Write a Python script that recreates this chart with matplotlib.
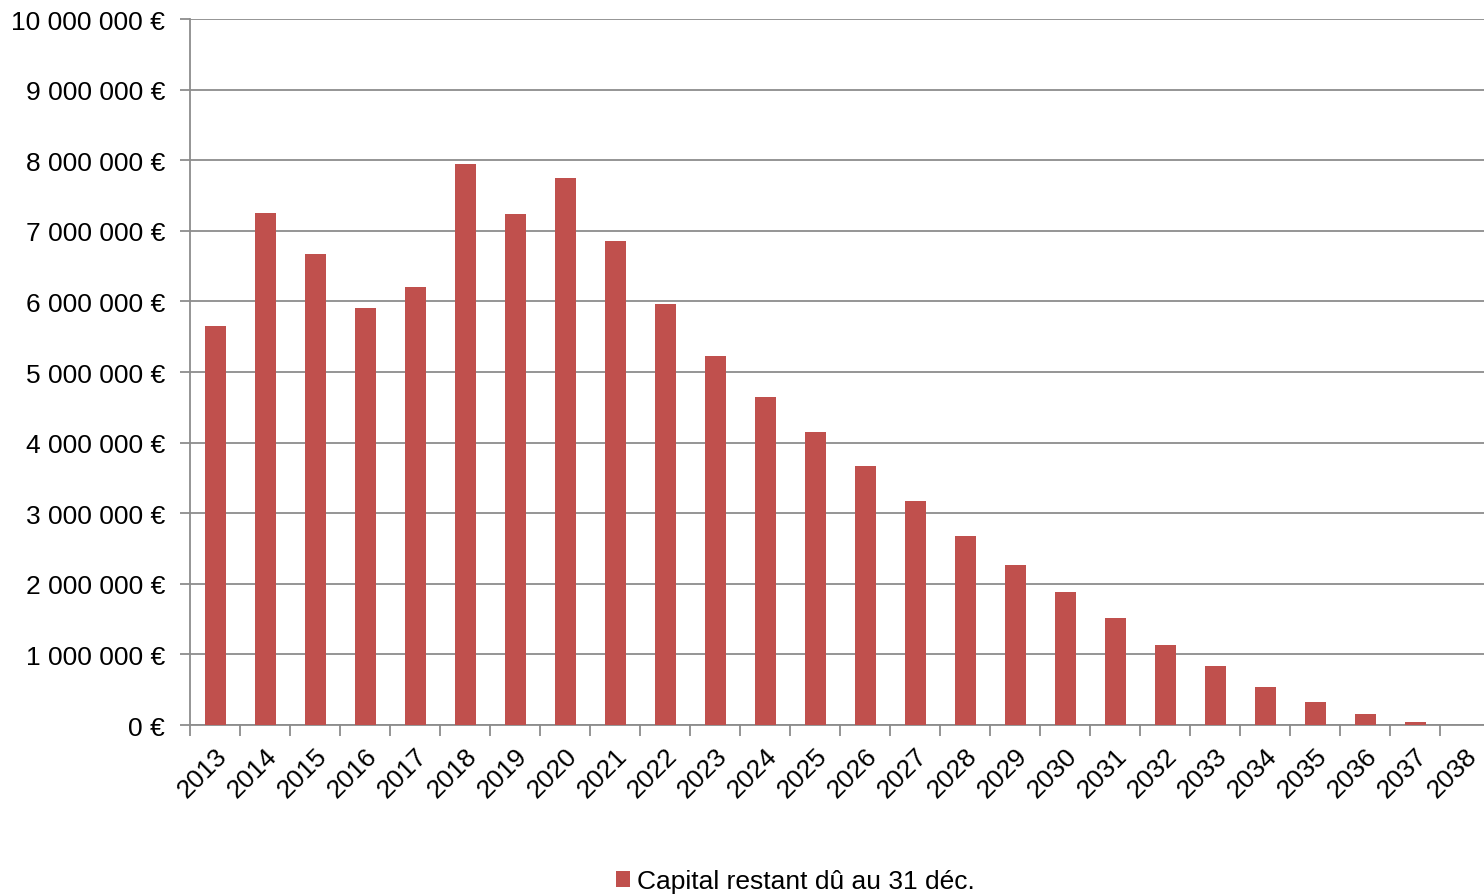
import numpy as np
import matplotlib.pyplot as plt
import matplotlib.ticker as ticker
from matplotlib.patches import Patch

plt.rcParams['font.family'] = ['Liberation Sans', 'DejaVu Sans']

years = [str(y) for y in range(2013, 2039)]
capital = [5.65, 7.25, 6.67, 5.91, 6.20, 7.95, 7.24, 7.75, 6.86, 5.96,
           5.23, 4.65, 4.15, 3.67, 3.17, 2.68, 2.27, 1.88, 1.52, 1.13,
           0.84, 0.54, 0.33, 0.16, 0.04, 0.0]
capital = [v * 1_000_000 for v in capital]
legend_label = "Capital restant dû au 31 déc."

bar_color = '#C0504D'
grid_color = '#8C8C8C'

fig = plt.figure(figsize=(14.84, 8.95), dpi=100)
ax = fig.add_axes([190 / 1484, 1 - 726 / 895, 1 - 190 / 1484, (726 - 20) / 895])

x = np.arange(len(years))
ax.bar(x, capital, width=0.42, color=bar_color, zorder=3)

ax.set_ylim(0, 10_000_000)
ax.set_xlim(-0.5, -0.5 + 1294 / 50)
ax.yaxis.set_major_locator(ticker.MultipleLocator(1_000_000))


def format_euro(v, pos):
    return f"{int(round(v)):,} €".replace(',', ' ')


ax.yaxis.set_major_formatter(ticker.FuncFormatter(format_euro))
ax.yaxis.grid(True, color=grid_color, linewidth=1.3, zorder=0)

ax.set_xticks(x)
ax.set_xticklabels(years, rotation=45, ha='right', rotation_mode='anchor')
ax.set_xticks(np.arange(len(years)) - 0.5, minor=True)
ax.tick_params(axis='x', which='major', length=0, pad=13, labelsize=19)
ax.tick_params(axis='x', which='minor', length=8, width=1.3, color=grid_color)
ax.tick_params(axis='y', length=7, width=1.3, color=grid_color, labelsize=19, pad=11)
for lab in ax.get_xticklabels():
    lab.set_x(0)

for side in ['top', 'right']:
    ax.spines[side].set_visible(False)
for side in ['left', 'bottom']:
    ax.spines[side].set_color(grid_color)
    ax.spines[side].set_linewidth(1.3)

handle = Patch(facecolor=bar_color, label=legend_label)
fig.legend(handles=[handle], loc='center', bbox_to_anchor=(795 / 1484, 1 - 882 / 895),
           frameon=False, fontsize=19, handlelength=0.55, handleheight=0.55,
           handletextpad=0.25)

fig.savefig('out.png', dpi=100)
